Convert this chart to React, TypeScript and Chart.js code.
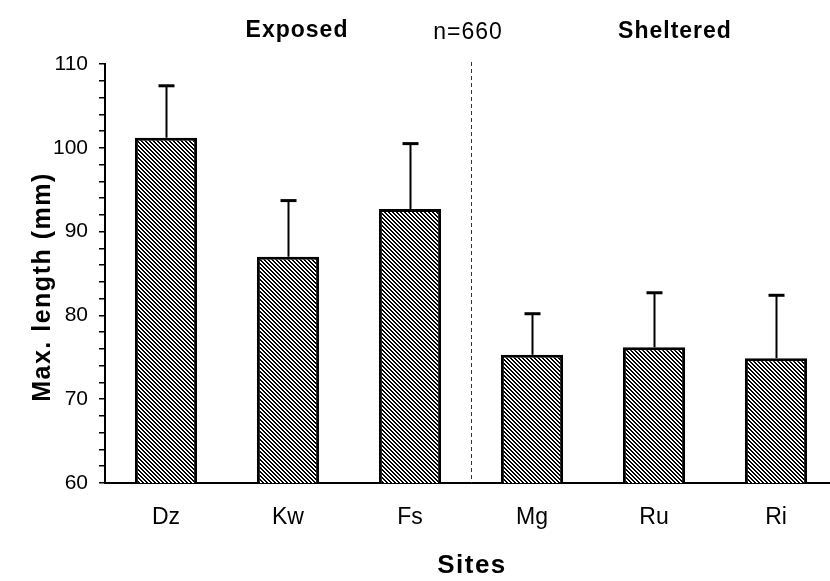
import React, { useEffect, useRef } from 'react';
import { Chart, registerables } from 'chart.js';

Chart.register(...registerables);

// Sites along the shore, grouped as exposed (first three) and sheltered (last three)
const sites = ['Dz', 'Kw', 'Fs', 'Mg', 'Ru', 'Ri'];
// Mean maximum shell length per site (mm)
const meanLength = [101.2, 87.0, 92.7, 75.3, 76.2, 74.9];
// Standard deviation per site (mm), drawn as the upper whisker
const sdLength = [6.2, 6.7, 7.8, 4.9, 6.5, 7.5];
// Y axis range and tick spacing
const yMin = 60;
const yMax = 110;
const yMinorStep = 2;
const yLabelStep = 10;
// Header texts
const groupLeft = 'Exposed';
const groupRight = 'Sheltered';
const sampleSize = 'n=660';
const xTitle = 'Sites';
const yTitle = 'Max. length (mm)';

const FONT = '"Liberation Sans", Arial, Helvetica, sans-serif';

function makeHatch(): CanvasPattern | string {
  const tile = document.createElement('canvas');
  tile.width = 4;
  tile.height = 4;
  const tctx = tile.getContext('2d');
  if (!tctx) return '#555';
  const img = tctx.createImageData(4, 4);
  for (let y = 0; y < 4; y++) {
    for (let x = 0; x < 4; x++) {
      const on = (((x - y) % 4) + 4) % 4 < 2;
      const i = (y * 4 + x) * 4;
      const v = on ? 0 : 255;
      img.data[i] = v;
      img.data[i + 1] = v;
      img.data[i + 2] = v;
      img.data[i + 3] = 255;
    }
  }
  tctx.putImageData(img, 0, 0);
  const main = document.createElement('canvas').getContext('2d');
  const pat = main ? main.createPattern(tile, 'repeat') : null;
  return pat || '#555';
}

const errorBarsPlugin = {
  id: 'errorBars',
  afterDatasetsDraw(chart: any) {
    const { ctx } = chart;
    const yScale = chart.scales.y;
    const meta = chart.getDatasetMeta(0);
    ctx.save();
    ctx.strokeStyle = '#000';
    ctx.lineCap = 'butt';
    meta.data.forEach((bar: any, i: number) => {
      const top = yScale.getPixelForValue(meanLength[i] + sdLength[i]);
      const x = Math.round(bar.x) + 0.5;
      ctx.lineWidth = 2;
      ctx.beginPath();
      ctx.moveTo(x, bar.y);
      ctx.lineTo(x, top);
      ctx.stroke();
      ctx.lineWidth = 3;
      ctx.beginPath();
      ctx.moveTo(x - 8, top);
      ctx.lineTo(x + 8, top);
      ctx.stroke();
    });
    ctx.restore();
  },
};

const annotationsPlugin = {
  id: 'annotations',
  afterDraw(chart: any) {
    const { ctx, chartArea } = chart;
    const xScale = chart.scales.x;
    ctx.save();

    // divider between the exposed and sheltered groups
    const xDiv = Math.round((xScale.getPixelForValue(2) + xScale.getPixelForValue(3)) / 2) + 0.5;
    ctx.strokeStyle = '#333';
    ctx.lineWidth = 1;
    ctx.setLineDash([4, 3]);
    ctx.beginPath();
    ctx.moveTo(xDiv, chartArea.top - 2);
    ctx.lineTo(xDiv, chartArea.bottom);
    ctx.stroke();
    ctx.setLineDash([]);

    ctx.fillStyle = '#000';
    ctx.textAlign = 'center';
    ctx.textBaseline = 'alphabetic';

    const c = ctx as any;
    c.letterSpacing = '1px';
    ctx.font = `bold 23px ${FONT}`;
    ctx.fillText(groupLeft, 297, 37);
    ctx.fillText(groupRight, 675, 38);
    ctx.font = `23px ${FONT}`;
    ctx.fillText(sampleSize, 468, 39);

    c.letterSpacing = '1.5px';
    ctx.font = `bold 26px ${FONT}`;
    ctx.fillText(xTitle, (chartArea.left + chartArea.right) / 2 + 1, 573);

    ctx.translate(50, 287);
    ctx.rotate(-Math.PI / 2);
    ctx.font = `bold 25px ${FONT}`;
    ctx.fillText(yTitle, 0, 0);
    ctx.restore();
  },
};

export default function App() {
  const canvasRef = useRef<HTMLCanvasElement | null>(null);

  useEffect(() => {
    const canvas = canvasRef.current;
    if (!canvas) return;
    const hatch = makeHatch();
    const chart = new Chart(canvas, {
      type: 'bar',
      data: {
        labels: sites,
        datasets: [
          {
            data: meanLength,
            backgroundColor: hatch as any,
            borderColor: '#000',
            borderWidth: 3,
            borderSkipped: 'start',
            categoryPercentage: 1,
            barPercentage: 0.51,
          },
        ],
      },
      options: {
        responsive: false,
        animation: false,
        devicePixelRatio: 1,
        layout: { padding: { top: 64, right: 3, left: 0, bottom: 0 } },
        plugins: {
          legend: { display: false },
          tooltip: { enabled: false },
          title: { display: false },
        },
        scales: {
          x: {
            type: 'category',
            offset: true,
            afterFit: (scale: any) => {
              scale.height = 98;
            },
            grid: { drawOnChartArea: false, drawTicks: false },
            border: { display: true, color: '#000', width: 2 },
            ticks: {
              color: '#000',
              padding: 21,
              font: { family: FONT, size: 23 },
            },
          },
          y: {
            type: 'linear',
            min: yMin,
            max: yMax,
            afterFit: (scale: any) => {
              scale.width = 105;
            },
            grid: {
              drawOnChartArea: false,
              drawTicks: true,
              tickLength: 6,
              color: '#000',
              lineWidth: 1.5,
            },
            border: { display: true, color: '#000', width: 2 },
            ticks: {
              stepSize: yMinorStep,
              maxTicksLimit: 40,
              autoSkip: false,
              color: '#000',
              padding: 11,
              font: { family: FONT, size: 21 },
              callback: (v: any) => (Number(v) % yLabelStep === 0 ? String(v) : ''),
            },
          },
        },
      },
      plugins: [errorBarsPlugin, annotationsPlugin],
    });
    return () => chart.destroy();
  }, []);

  return (
    <div
      style={{
        position: 'fixed',
        left: 0,
        top: 0,
        width: 830,
        height: 581,
        overflow: 'hidden',
        background: '#fff',
      }}
    >
      <canvas ref={canvasRef} width={840} height={581} style={{ display: 'block' }} />
    </div>
  );
}
